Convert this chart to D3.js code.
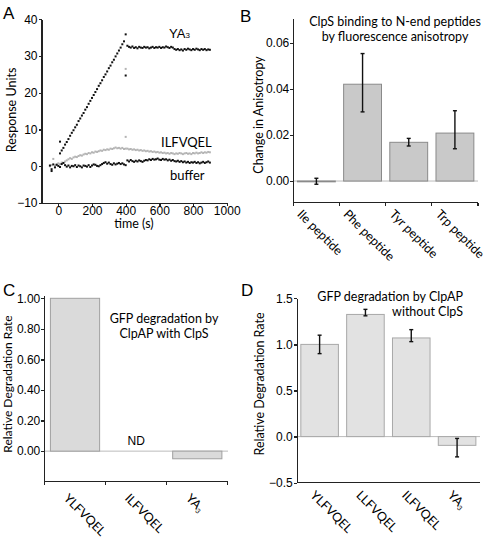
<!DOCTYPE html>
<html><head><meta charset="utf-8">
<script src="https://cdn.jsdelivr.net/npm/d3@7/dist/d3.min.js"></script>
<style>
body{margin:0;background:#fff}
svg{display:block}
.num{font-family:"Liberation Sans",Arial,sans-serif;font-size:12px}
.lab{font-family:Lato,"Open Sans",sans-serif;font-size:12.5px}
.axis path,.axis line{stroke:#222;stroke-width:1.3px;shape-rendering:crispEdges}
</style>
</head><body>
<svg id="chart" width="496" height="538"></svg>
<script>
// ---------- Panel A data (SPR sensorgram) ----------
const timesA = [-50,-40,-30,-20,-10,0,10,20,30,40,50,60,70,80,90,100,110,120,130,140,150,160,170,180,190,200,210,220,230,240,250,260,270,280,290,300,310,320,330,340,350,360,370,380,390,400,410,420,430,440,450,460,470,480,490,500,510,520,530,540,550,560,570,580,590,600,610,620,630,640,650,660,670,680,690,700,710,720,730,740,750,760,770,780,790,800,810,820,830,840,850,860,870,880,890,900];
const bufferA = [0.2,-0.8,0.5,-0.3,0.4,0.1,-0.2,0.6,0.9,0.3,-0.1,0.2,-0.3,0.1,0.0,0.3,-0.2,0.2,0.0,-0.3,0.2,0.1,-0.1,0.3,-0.2,0.2,0.5,0.4,0.1,0.0,0.3,0.6,0.9,1.1,0.7,1.0,0.6,0.4,0.8,0.5,0.7,0.9,0.6,0.8,0.5,0.3,1.6,1.3,1.7,1.4,1.2,1.5,1.3,1.6,1.4,1.2,1.5,1.7,1.6,1.9,1.7,2.0,1.8,1.9,2.1,1.8,1.7,2.0,1.8,1.9,1.6,1.8,1.5,1.7,1.4,1.3,1.5,1.2,1.4,1.1,1.3,1.0,1.2,0.9,1.1,1.0,1.2,0.9,1.1,0.8,1.0,1.2,0.9,1.1,1.3,1.0];
const ilfvqelA = [0.0,0.3,2.0,0.2,0.5,0.8,0.6,1.0,0.9,1.3,1.6,1.9,2.2,2.0,2.4,2.6,2.5,2.8,3.0,2.9,3.2,3.4,3.3,3.6,3.5,3.8,3.7,4.0,3.9,4.1,4.3,4.2,4.5,4.4,4.6,4.5,4.8,4.7,4.9,5.1,4.9,5.0,4.8,5.0,4.7,4.8,4.8,4.6,4.7,4.5,4.6,4.4,4.5,4.3,4.4,4.2,4.3,4.1,4.2,4.0,4.1,3.9,4.0,3.8,3.9,3.7,3.8,3.6,3.7,3.5,3.6,3.4,3.6,3.5,3.3,3.5,3.4,3.6,3.5,3.3,3.5,3.6,3.4,3.5,3.3,3.6,3.5,3.7,3.5,3.6,3.8,3.6,3.8,3.7,3.9,3.8];
const timesYA3 = [10,20,30,40,50,60,70,80,90,100,110,120,130,140,150,160,170,180,190,200,210,220,230,240,250,260,270,280,290,300,310,320,330,340,350,360,370,380,390,400,410,420,430,440,450,460,470,480,490,500,510,520,530,540,550,560,570,580,590,600,610,620,630,640,650,660,670,680,690,700,710,720,730,740,750,760,770,780,790,800,810,820,830,840,850,860,870,880,890,900];
const ya3A = [3.5,4.3,5.0,5.9,6.6,7.4,8.3,9.1,9.8,10.6,11.3,12.3,13.0,13.8,14.5,15.4,16.1,17.0,17.8,18.6,19.4,20.2,21.0,21.9,22.6,23.4,24.3,25.0,25.8,26.7,27.4,28.3,29.0,29.9,30.7,31.5,32.3,33.2,34.0,35.9,32.8,32.5,32.3,32.6,32.2,32.4,32.1,32.5,32.3,32.2,32.5,32.3,32.4,32.1,32.3,32.5,32.2,32.4,32.3,32.5,32.2,32.4,32.3,32.6,32.4,32.2,32.5,32.3,31.9,31.7,31.9,31.6,31.8,31.5,31.9,31.7,32.0,31.8,31.6,31.9,31.7,32.0,31.8,31.6,31.9,31.7,31.9,31.6,31.8,31.7];
const outlierBlackT = [10,400,-40];
const outlierBlackV = [6.7,24.7,-1.3];
const outlierGrayT = [400,400];
const outlierGrayV = [26.5,8.0];
const ticksAx = [0,200,400,600,800,1000];
const ticksAy = [-10,0,10,20,30,40];

// ---------- Panel B data ----------
const categoriesB = ["Ile peptide","Phe peptide","Tyr peptide","Trp peptide"];
const valuesB = [-0.0003,0.042,0.0168,0.0208];
const errLowB = [-0.0014,0.0300,0.0152,0.0140];
const errHighB = [0.0012,0.0553,0.0185,0.0305];
const ticksBy = [0,0.02,0.04,0.06];

// ---------- Panel C data ----------
const categoriesC = ["YLFVQEL","ILFVQEL","YA3"];
const valuesC = [1.0,null,-0.05];
const ticksCy = [0,0.2,0.4,0.6,0.8,1.0];

// ---------- Panel D data ----------
const categoriesD = ["YLFVQEL","LLFVQEL","ILFVQEL","YA3"];
const valuesD = [1.0,1.325,1.07,-0.095];
const errLowD = [0.90,1.31,1.03,-0.22];
const errHighD = [1.10,1.38,1.16,-0.02];
const ticksDy = [-0.5,0,0.5,1.0,1.5];

const svg = d3.select("#chart");

function panelLetter(t,x,y){
  svg.append("text").attr("x",x).attr("y",y).attr("font-family","Liberation Sans,Arial,sans-serif")
    .attr("font-size",17).text(t);
}
function catLabel(sel, name){
  if(name==="YA3"){
    sel.append("tspan").text("YA");
    sel.append("tspan").text("3").attr("font-size","7px").attr("dy","2");
  } else sel.text(name);
}
function yLabel(t,x,y,fs){
  svg.append("text").attr("class","lab").attr("text-anchor","middle")
    .style("font-size",fs?fs+"px":null)
    .attr("transform",`translate(${x},${y}) rotate(-90)`).text(t);
}
function title(t,x,y,anchor){
  svg.append("text").attr("class","lab").style("font-size","12.5px")
    .attr("text-anchor",anchor).attr("x",x).attr("y",y).text(t);
}
function styleAxis(g){
  g.attr("class","axis");
  g.selectAll("text").attr("class","num").attr("fill","#000");
}

// ================= Panel A =================
(function(){
  const x = d3.scaleLinear().domain([-100,1000]).range([41.5,226.7]);
  const y = d3.scaleLinear().domain([-10,40]).range([203,19.3]);
  const gy = svg.append("g").attr("transform","translate(41.5,0)")
    .call(d3.axisLeft(y).tickValues(ticksAy).tickSize(3).tickSizeOuter(0).tickPadding(1));
  styleAxis(gy);
  const gx = svg.append("g").attr("transform","translate(0,203)")
    .call(d3.axisBottom(x).tickValues(ticksAx).tickFormat(d3.format("d")).tickSize(3).tickSizeOuter(0).tickPadding(0));
  styleAxis(gx);
  const pts = (ts,vs,col)=>{
    svg.append("g").selectAll("rect").data(ts).join("rect")
      .attr("x",(d)=>x(d)-1).attr("y",(d,i)=>y(vs[i])-1)
      .attr("width",2).attr("height",2).attr("fill",col);
  };
  pts(timesA,ilfvqelA,"#b4b4b4");
  pts(outlierGrayT,outlierGrayV,"#b4b4b4");
  pts(timesA,bufferA,"#111");
  pts(timesYA3,ya3A,"#111");
  pts(outlierBlackT,outlierBlackV,"#111");
  const ya = svg.append("text").attr("x",169).attr("y",38).attr("class","num").style("font-size","13px");
  ya.append("tspan").text("YA");
  ya.append("tspan").text("3").style("font-size","8px");
  svg.append("text").attr("class","lab").style("font-size","13px").attr("x",161).attr("y",147).text("ILFVQEL");
  svg.append("text").attr("class","lab").style("font-size","13px").attr("x",170).attr("y",180).text("buffer");
  svg.append("text").attr("class","lab").attr("text-anchor","middle").attr("x",134).attr("y",228).text("time (s)");
  yLabel("Response Units",16,110);
  panelLetter("A",3,19);
})();

// ================= Panel B =================
(function(){
  const x = d3.scaleBand().domain(categoriesB).range([293.3,478]).paddingInner(0.18).paddingOuter(0.09);
  const y = d3.scaleLinear().domain([-0.0094,0.0706]).range([202.7,18.3]);
  svg.append("line").attr("x1",293.3).attr("x2",478).attr("y1",y(0)).attr("y2",y(0))
    .attr("stroke","#bbb").attr("stroke-width",1);
  svg.append("g").selectAll("rect").data(categoriesB).join("rect")
    .attr("x",d=>x(d)).attr("width",x.bandwidth())
    .attr("y",(d,i)=>Math.min(y(valuesB[i]),y(0)))
    .attr("height",(d,i)=>Math.max(0.8,Math.abs(y(valuesB[i])-y(0))))
    .attr("fill","#c9c9c9").attr("stroke","#8a8a8a").attr("stroke-width",1);
  const eg = svg.append("g").attr("stroke","#111").attr("stroke-width",1.4);
  categoriesB.forEach((c,i)=>{
    const cx = x(c)+x.bandwidth()/2;
    eg.append("line").attr("x1",cx).attr("x2",cx).attr("y1",y(errLowB[i])).attr("y2",y(errHighB[i]));
    eg.append("line").attr("x1",cx-2).attr("x2",cx+2).attr("y1",y(errLowB[i])).attr("y2",y(errLowB[i]));
    eg.append("line").attr("x1",cx-2).attr("x2",cx+2).attr("y1",y(errHighB[i])).attr("y2",y(errHighB[i]));
  });
  const gy = svg.append("g").attr("transform","translate(293.3,0)")
    .call(d3.axisLeft(y).tickValues(ticksBy).tickFormat(d3.format(".2f")).tickSize(3).tickSizeOuter(0).tickPadding(1));
  styleAxis(gy);
  const step = x.step();
  const bTicks = [0,1,2,3,4].map(k=>293.3+k*step);
  const xa = svg.append("g").attr("class","axis");
  xa.append("line").attr("x1",293.3).attr("x2",478).attr("y1",202.7).attr("y2",202.7);
  xa.selectAll("line.t").data(bTicks).join("line").attr("class","t")
    .attr("x1",d=>d).attr("x2",d=>d).attr("y1",202.7).attr("y2",205.5);
  svg.append("g").selectAll("text").data(categoriesB).join("text").attr("class","lab")
    .attr("transform",d=>`translate(${x(d)-1},215) rotate(45)`).text(d=>d);
  title("ClpS binding to N-end peptides",395,26,"middle");
  title("by fluorescence  anisotropy",395,41,"middle");
  yLabel("Change in Anisotropy",263,115);
  panelLetter("B",240,22);
})();

// ================= Panel C =================
(function(){
  const x = d3.scaleBand().domain(categoriesC).range([44.3,228]).paddingInner(0.195).paddingOuter(0.1);
  const y = d3.scaleLinear().domain([-0.2,1.0]).range([481.7,298.3]);
  svg.append("line").attr("x1",44.3).attr("x2",228).attr("y1",y(0)).attr("y2",y(0))
    .attr("stroke","#bbb").attr("stroke-width",1);
  svg.append("g").selectAll("rect").data(categoriesC.filter((d,i)=>valuesC[i]!==null)).join("rect")
    .attr("x",d=>x(d)).attr("width",x.bandwidth())
    .attr("y",d=>{const v=valuesC[categoriesC.indexOf(d)];return Math.min(y(v),y(0));})
    .attr("height",d=>{const v=valuesC[categoriesC.indexOf(d)];return Math.abs(y(v)-y(0));})
    .attr("fill","#dadada").attr("stroke","#a0a0a0").attr("stroke-width",1);
  svg.append("text").attr("class","num").attr("text-anchor","middle")
    .attr("x",x("ILFVQEL")+x.bandwidth()/2).attr("y",445).text("ND");
  const gy = svg.append("g").attr("transform","translate(44.3,0)")
    .call(d3.axisLeft(y).tickValues(ticksCy).tickFormat(d3.format(".2f")).tickSize(3).tickSizeOuter(0).tickPadding(1));
  styleAxis(gy);
  gy.select("path.domain").attr("d","M0,481.7V296");
  const step = x.step();
  const cTicks = [0,1,2,3].map(k=>44.3+k*step);
  const xa = svg.append("g").attr("class","axis");
  xa.append("line").attr("x1",44.3).attr("x2",228).attr("y1",481.7).attr("y2",481.7);
  xa.selectAll("line.t").data(cTicks).join("line").attr("class","t")
    .attr("x1",d=>d).attr("x2",d=>d).attr("y1",481.7).attr("y2",484.5);
  categoriesC.forEach(c=>{
    const tx = svg.append("text").attr("class","lab")
      .attr("transform",`translate(${x(c)+x.bandwidth()/2-12},499) rotate(45)`);
    catLabel(tx,c);
  });
  title("GFP degradation by",164,323,"middle");
  title("ClpAP with ClpS",164,338,"middle");
  yLabel("Relative Degradation Rate",11.5,384,12);
  panelLetter("C",3,296);
})();

// ================= Panel D =================
(function(){
  const x = d3.scaleBand().domain(categoriesD).range([296.7,480]).paddingInner(0.18).paddingOuter(0.09);
  const y = d3.scaleLinear().domain([-0.5,1.5]).range([482.7,298.3]);
  svg.append("line").attr("x1",296.7).attr("x2",480).attr("y1",y(0)).attr("y2",y(0))
    .attr("stroke","#bbb").attr("stroke-width",1);
  svg.append("g").selectAll("rect").data(categoriesD).join("rect")
    .attr("x",d=>x(d)).attr("width",x.bandwidth())
    .attr("y",(d,i)=>Math.min(y(valuesD[i]),y(0)))
    .attr("height",(d,i)=>Math.abs(y(valuesD[i])-y(0)))
    .attr("fill","#e2e2e2").attr("stroke","#a8a8a8").attr("stroke-width",1);
  const eg = svg.append("g").attr("stroke","#111").attr("stroke-width",1.4);
  categoriesD.forEach((c,i)=>{
    const cx = x(c)+x.bandwidth()/2;
    eg.append("line").attr("x1",cx).attr("x2",cx).attr("y1",y(errLowD[i])).attr("y2",y(errHighD[i]));
    eg.append("line").attr("x1",cx-2).attr("x2",cx+2).attr("y1",y(errLowD[i])).attr("y2",y(errLowD[i]));
    eg.append("line").attr("x1",cx-2).attr("x2",cx+2).attr("y1",y(errHighD[i])).attr("y2",y(errHighD[i]));
  });
  const gy = svg.append("g").attr("transform","translate(296.7,0)")
    .call(d3.axisLeft(y).tickValues(ticksDy).tickFormat(d3.format(".1f")).tickSize(3).tickSizeOuter(0).tickPadding(1));
  styleAxis(gy);
  const xa = svg.append("g").attr("class","axis");
  xa.append("line").attr("x1",296.7).attr("x2",480).attr("y1",482.7).attr("y2",482.7);
  categoriesD.forEach(c=>{
    const tx = svg.append("text").attr("class","lab")
      .attr("transform",`translate(${x(c)+x.bandwidth()/2-10},496) rotate(45)`);
    catLabel(tx,c);
  });
  title("GFP degradation by ClpAP",463,301,"end");
  title("without ClpS",463,316,"end");
  yLabel("Relative Degradation Rate",264,384);
  panelLetter("D",241,296);
})();
</script>
</body></html>
